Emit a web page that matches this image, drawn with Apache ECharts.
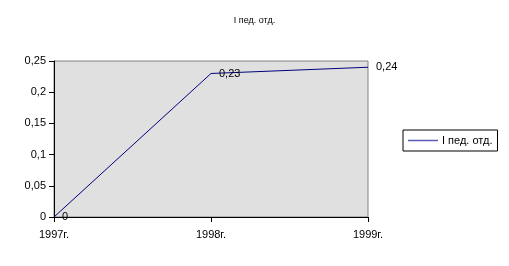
<!DOCTYPE html>
<html>
<head>
<meta charset="utf-8">
<script src="https://cdn.jsdelivr.net/npm/echarts@6/dist/echarts.min.js"></script>
<style>html,body{margin:0;padding:0;background:#fff}#c{width:509px;height:266px}</style>
</head>
<body>
<div id="c"></div>
<script>
var categories = ['1997г.', '1998г.', '1999г.'];
var seriesName = 'I пед. отд.';
var values = [0, 0.23, 0.24];
var titleText = 'I пед. отд.';

function fmt(v) { return String(v).replace('.', ','); }

var chart = echarts.init(document.getElementById('c'));
chart.setOption({
  animation: false,
  textStyle: { fontFamily: 'Liberation Sans, Arial, sans-serif' },
  title: {
    text: titleText, left: 'center', top: 11,
    textStyle: { fontSize: 9, fontWeight: 'normal', color: '#000', fontFamily: 'Liberation Sans, Arial, sans-serif' }
  },
  grid: {
    left: 54, right: 141, top: 61, bottom: 49,
    show: true, backgroundColor: '#e0e0e0', borderColor: '#808080', borderWidth: 1
  },
  legend: {
    left: 403, top: 130,
    orient: 'vertical',
    borderColor: '#000', borderWidth: 1, borderRadius: 0,
    padding: [5, 5, 5, 5],
    backgroundColor: '#fff',
    icon: 'rect', itemWidth: 30, itemHeight: 1.5, itemGap: 4,
    itemStyle: { color: '#5a5ab8', opacity: 1 },
    textStyle: { fontSize: 11, color: '#000', fontFamily: 'Liberation Sans, Arial, sans-serif', padding: [0, 0, 0, -1] },
    data: [seriesName]
  },
  xAxis: {
    type: 'category', data: categories, boundaryGap: false,
    axisLine: { lineStyle: { color: '#000', width: 1 } },
    axisTick: { show: true, length: 5, lineStyle: { color: '#000' } },
    axisLabel: { color: '#000', fontSize: 11, margin: 12, fontFamily: 'Liberation Sans, Arial, sans-serif' },
    splitLine: { show: false }
  },
  yAxis: {
    type: 'value', min: 0, max: 0.25, interval: 0.05,
    axisLine: { show: true, lineStyle: { color: '#000', width: 1 } },
    axisTick: { show: true, length: 5, lineStyle: { color: '#000' } },
    axisLabel: { color: '#000', fontSize: 11, margin: 8, formatter: function (v) { return fmt(+v.toFixed(2)); }, fontFamily: 'Liberation Sans, Arial, sans-serif' },
    splitLine: { show: false }
  },
  series: [{
    name: seriesName, type: 'line', data: values,
    symbol: 'circle', symbolSize: 0, showSymbol: true,
    lineStyle: { color: '#000080', width: 1 },
    itemStyle: { color: '#000080' },
    label: {
      show: true, position: 'right', distance: 8,
      color: '#000', fontSize: 11, fontFamily: 'Liberation Sans, Arial, sans-serif',
      formatter: function (p) { return fmt(p.value); }
    }
  }]
});
</script>
</body>
</html>
